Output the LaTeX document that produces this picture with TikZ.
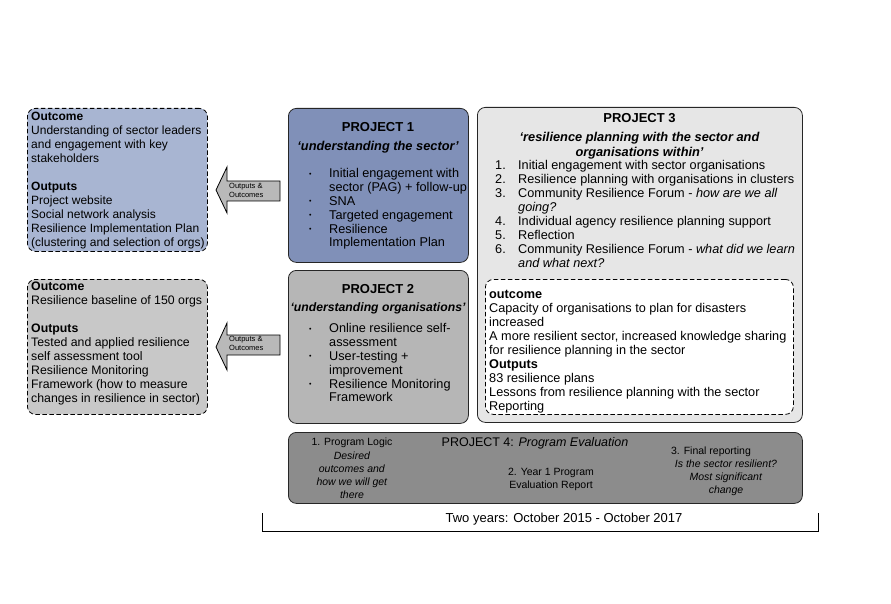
\documentclass[tikz,border=0pt]{standalone}
\usepackage{fontspec}
\setmainfont{Liberation Sans}
\usetikzlibrary{positioning}

\definecolor{outblue}{RGB}{168,181,210}
\definecolor{projblue}{RGB}{128,144,184}
\definecolor{outgray}{RGB}{200,200,200}
\definecolor{projgray}{RGB}{182,182,182}
\definecolor{threegray}{RGB}{230,230,230}
\definecolor{fourgray}{RGB}{140,140,140}
\definecolor{arrowgray}{RGB}{185,185,185}

\newcommand{\itembul}{\makebox[20pt][l]{\raisebox{1.5pt}{\fontsize{7}{7}\selectfont •}}}
\newcommand{\itemcont}{\hspace*{20pt}}
\newcommand{\itemnum}[1]{\makebox[23pt][l]{#1}}

\tikzset{
  box/.style={draw=black!85, line width=0.8pt, rounded corners=8pt,
    inner sep=0pt, anchor=north west},
  dbox/.style={box, draw=black, dash pattern=on 4.5pt off 2.5pt},
  txt/.style={inner sep=0pt, anchor=north west, align=left,
    font=\fontsize{12.7}{14}\selectfont},
  ptitle/.style={inner sep=0pt, anchor=north, align=center,
    font=\fontsize{13}{14.5}\selectfont\bfseries},
  pquote/.style={inner sep=0pt, anchor=north, align=center,
    font=\fontsize{12.8}{14.3}\selectfont\bfseries\itshape},
  small/.style={inner sep=0pt, anchor=north, align=center,
    font=\fontsize{10.5}{13.2}\selectfont},
  oarrow/.style={draw=black, line width=0.8pt, fill=arrowgray},
  atxt/.style={inner sep=0pt, anchor=west, align=left,
    font=\fontsize{7.5}{9}\selectfont}
}

\begin{document}
\begin{tikzpicture}[x=1pt,y=-1pt]
  \useasboundingbox (0,0) rectangle (891,604);

  % outcome boxes
  \node[dbox, fill=outblue, minimum width=180pt, minimum height=143pt] (outA) at (27,108) {};
  \node[dbox, fill=outgray, minimum width=180pt, minimum height=135pt] (outB) at (27,279) {};
  \node[txt, font=\fontsize{12}{14}\selectfont] (outAtxt) at (31,112.4) {\textbf{Outcome}\\
    Understanding of sector leaders\\and engagement with key\\stakeholders\\[14pt]
    \textbf{Outputs}\\Project website\\Social network analysis\\
    Resilience Implementation Plan\\(clustering and selection of orgs)};
  \node[txt, font=\fontsize{12.3}{14}\selectfont] (outBtxt) at (31,281.6) {\textbf{Outcome}\\
    Resilience baseline of 150 orgs\\[14pt]
    \textbf{Outputs}\\Tested and applied resilience\\self assessment tool\\
    Resilience Monitoring\\Framework (how to measure\\changes in resilience in sector)};

  % block arrows
  \draw[oarrow] (216,190) -- (227,167) -- (227,181) -- (280,181) -- (280,201)
    -- (227,201) -- (227,213) -- cycle;
  \node[atxt] (arrA) at (229,190) {Outputs \&\\Outcomes};
  \draw[oarrow] (216,347) -- (227,323) -- (227,335) -- (280,335) -- (280,355)
    -- (227,355) -- (227,370) -- cycle;
  \node[atxt] (arrB) at (229,343) {Outputs \&\\Outcomes};

  % project 1
  \node[box, fill=projblue, minimum width=180pt, minimum height=154pt] (p1) at (288,108) {};
  \node[ptitle] (p1title) at (378,122.4) {PROJECT 1};
  \node[pquote] (p1quote) at (378,141.4) {‘understanding the sector’};
  \node[txt, font=\fontsize{12.7}{13.8}\selectfont] (p1list) at (309,168.4)
    {\itembul Initial engagement with\\
    \itemcont sector (PAG) + follow-up\\\itembul SNA\\\itembul Targeted engagement\\
    \itembul Resilience\\\itemcont Implementation Plan};

  % project 2
  \node[box, fill=projgray, minimum width=180pt, minimum height=153pt] (p2) at (288,270) {};
  \node[ptitle] (p2title) at (378,284.4) {PROJECT 2};
  \node[pquote, font=\fontsize{12.2}{14}\selectfont\bfseries\itshape] (p2quote) at (378,302.6)
    {‘understanding organisations’};
  \node[txt, font=\fontsize{12.7}{13.8}\selectfont] (p2list) at (309,323.4)
    {\itembul Online resilience self-\\
    \itemcont assessment\\\itembul User-testing +\\\itemcont improvement\\
    \itembul Resilience Monitoring\\\itemcont Framework};

  % project 3
  \node[box, fill=threegray, minimum width=325pt, minimum height=315pt] (p3) at (477,107) {};
  \node[ptitle] (p3title) at (639.5,113.4) {PROJECT 3};
  \node[pquote] (p3quote) at (639.5,132.5) {‘resilience planning with the sector and\\
    organisations within’};
  \node[txt] (p3list) at (495,160.5) {\itemnum{1.}Initial engagement with sector organisations\\
    \itemnum{2.}Resilience planning with organisations in clusters\\
    \itemnum{3.}Community Resilience Forum - \textit{how are we all}\\
    \itemnum{}\textit{going?}\\
    \itemnum{4.}Individual agency resilience planning support\\
    \itemnum{5.}Reflection\\
    \itemnum{6.}Community Resilience Forum - \textit{what did we learn}\\
    \itemnum{}\textit{and what next?}};
  \node[dbox, fill=white, minimum width=308pt, minimum height=135pt] (p3out) at (485,279) {};
  \node[txt] (p3outtxt) at (489,290.4) {\textbf{outcome}\\
    Capacity of organisations to plan for disasters\\increased\\
    A more resilient sector, increased knowledge sharing\\
    for resilience planning in the sector\\
    \textbf{Outputs}\\83 resilience plans\\
    Lessons from resilience planning with the sector\\Reporting};

  % project 4
  \node[box, fill=fourgray, minimum width=514pt, minimum height=71pt] (p4) at (288,432) {};
  \node[small, font=\fontsize{12.5}{14}\selectfont] (p4title) at (535,437)
    {PROJECT 4: \textit{Program Evaluation}};
  \node[small] (p4logic) at (352,438) {1. Program Logic\\\textit{Desired}\\
    \textit{outcomes and}\\\textit{how we will get}\\\textit{there}};
  \node[small] (p4year) at (551,467.5) {2. Year 1 Program\\Evaluation Report};
  \node[small] (p4final) at (711,447) {3. Final reporting};
  \node[small] (p4sector) at (726,459.5) {\textit{Is the sector resilient?}\\
    \textit{Most significant}\\\textit{change}};

  % time span
  \draw[line width=0.8pt] (262,513) |- (818,531) -- (818,513);
  \node[inner sep=0pt, font=\fontsize{13}{14.5}\selectfont] (span) at (564,519)
    {Two years: October 2015 - October 2017};
\end{tikzpicture}
\end{document}
